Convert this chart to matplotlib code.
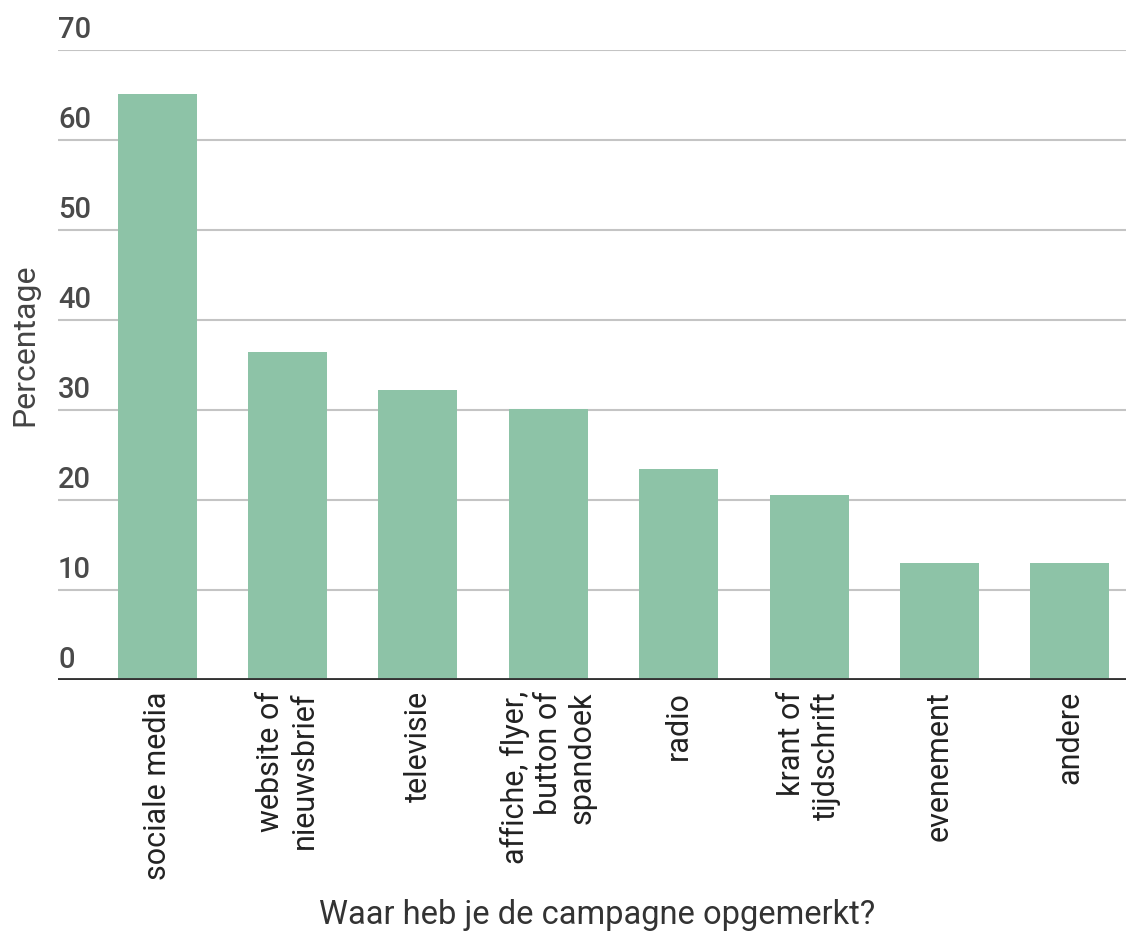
import matplotlib.pyplot as plt
from matplotlib.transforms import blended_transform_factory

plt.rcParams['font.family'] = ['Roboto', 'DejaVu Sans']

categories = ['sociale media', 'website of\nnieuwsbrief', 'televisie',
              'affiche, flyer,\nbutton of\nspandoek', 'radio',
              'krant of\ntijdschrift', 'evenement', 'andere']
percentages = [65.1, 36.4, 32.2, 30.1, 23.4, 20.6, 13.0, 13.0]
yticks = [0, 10, 20, 30, 40, 50, 60, 70]

fig = plt.figure(figsize=(11.26, 9.33), dpi=100)
ax = fig.add_axes([58 / 1126, (933 - 680) / 933, 1 - 58 / 1126, (680 - 50) / 933])

x = list(range(len(categories)))
ax.bar(x, percentages, width=0.605, color='#8dc3a7', zorder=2)

ax.set_ylim(0, 70)
ax.set_xlim(-0.76, 7.43)
for v in yticks[1:]:
    ax.axhline(v, color='#c4c4c4', lw=1.5, zorder=1)
ax.axhline(0, color='#333333', lw=3.5, zorder=3)

for s in ax.spines.values():
    s.set_visible(False)
ax.set_yticks([])
ax.set_xticks(x)
ax.set_xticklabels(categories, rotation=90, ha='center', va='top',
                   multialignment='right', fontsize=22, color='#222222')
ax.tick_params(axis='x', length=0, pad=8)

trans = blended_transform_factory(ax.transAxes, ax.transData)
for v in yticks:
    ax.annotate(str(v), xy=(0, v), xycoords=trans, xytext=(0, 4),
                textcoords='offset points', ha='left', va='bottom',
                fontsize=21, color='#4a4a4a', fontweight='medium')

fig.text(25 / 1126, 1 - 345 / 933, 'Percentage', rotation=90, ha='center',
         va='center', fontsize=23, color='#444444')
fig.text(597 / 1126, 1 - 915 / 933, 'Waar heb je de campagne opgemerkt?',
         ha='center', va='center', fontsize=23.5, color='#333333')

fig.savefig('out.png', dpi=100)
